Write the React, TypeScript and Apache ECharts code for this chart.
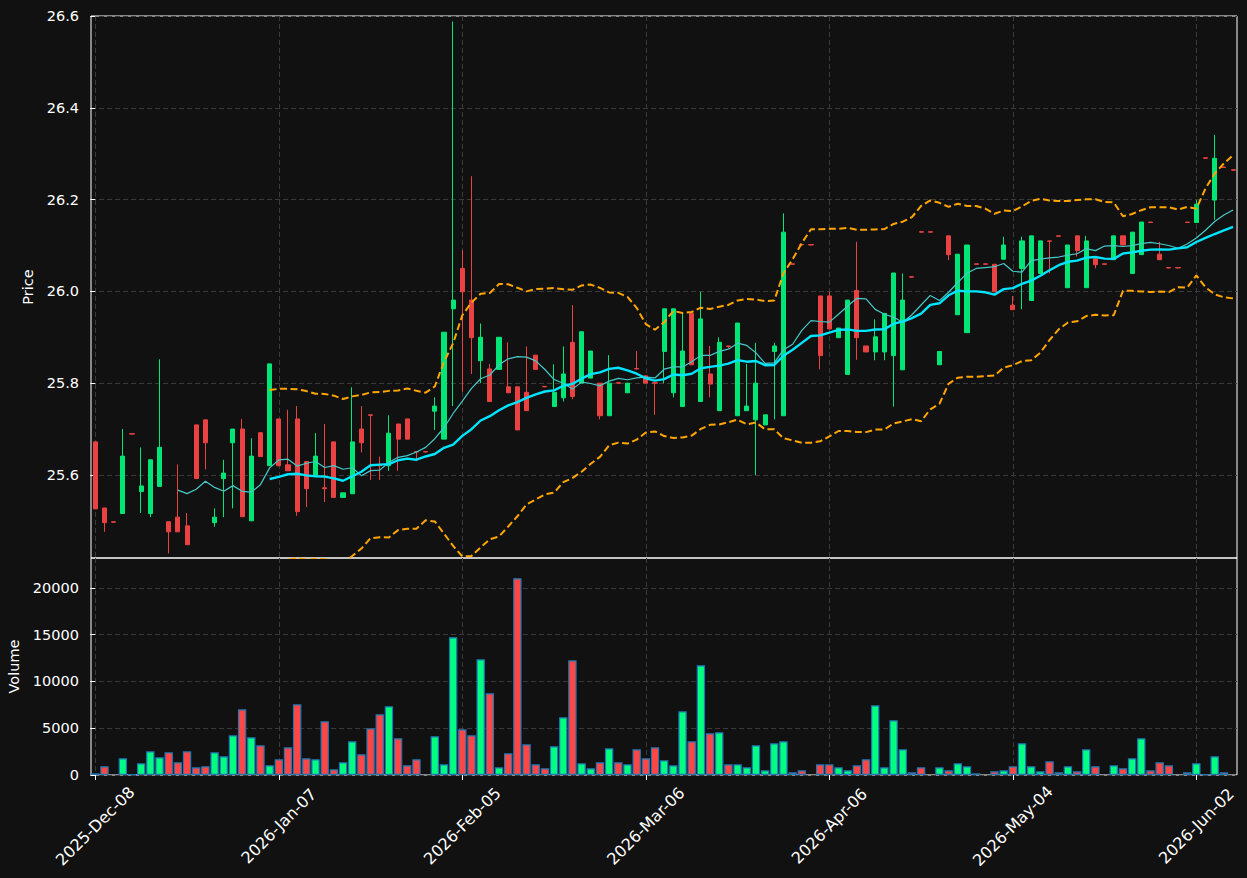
import React, { useEffect, useRef } from "react";
import * as echarts from "echarts";

// Trading days (US calendar) shown on the chart
const monthDays: [string, number[]][] = [
  ["2025-Dec", [8, 9, 10, 11, 12, 15, 16, 17, 18, 19, 22, 23, 24, 26, 29, 30, 31]],
  ["2026-Jan", [2, 5, 6, 7, 8, 9, 12, 13, 14, 15, 16, 20, 21, 22, 23, 26, 27, 28, 29, 30]],
  ["2026-Feb", [2, 3, 4, 5, 6, 9, 10, 11, 12, 13, 17, 18, 19, 20, 23, 24, 25, 26, 27]],
  ["2026-Mar", [2, 3, 4, 5, 6, 9, 10, 11, 12, 13, 16, 17, 18, 19, 20, 23, 24, 25, 26, 27, 30, 31]],
  ["2026-Apr", [1, 2, 6, 7, 8, 9, 10, 13, 14, 15, 16, 17, 20, 21, 22, 23, 24, 27, 28, 29, 30]],
  ["2026-May", [1, 4, 5, 6, 7, 8, 11, 12, 13, 14, 15, 18, 19, 20, 21, 22, 26, 27, 28, 29]],
  ["2026-Jun", [1, 2, 3, 4, 5, 8]],
];
const dates: string[] = monthDays.flatMap(([m, ds]) => ds.map((d) => `${m}-${String(d).padStart(2, "0")}`));

const open = [
  25.672, 25.528, 25.498, 25.516, 25.690, 25.564, 25.516, 25.575, 25.498, 25.508,
  25.489, 25.709, 25.720, 25.496, 25.592, 25.670, 25.700, 25.500, 25.692, 25.620,
  25.722, 25.622, 25.722, 25.629, 25.598, 25.572, 25.672, 25.551, 25.559, 25.700,
  25.731, 25.621, 25.620, 25.711, 25.722, 25.651, 25.651, 25.739, 25.678, 25.962,
  26.050, 25.981, 25.849, 25.831, 25.830, 25.792, 25.792, 25.780, 25.861, 25.793,
  25.749, 25.768, 25.889, 25.800, 25.811, 25.800, 25.729, 25.801, 25.779, 25.832,
  25.816, 25.801, 25.869, 25.779, 25.749, 25.952, 25.760, 25.820, 25.740, 25.881,
  25.729, 25.740, 25.720, 25.709, 25.869, 25.729, 26.060, 26.102, 26.102, 25.990,
  25.990, 25.899, 25.819, 26.002, 25.881, 25.868, 25.868, 25.860, 25.829, 26.032,
  26.130, 26.130, 25.840, 26.121, 25.949, 25.910, 26.060, 26.060, 26.059, 26.070,
  25.970, 26.050, 25.980, 26.039, 26.110, 26.121, 26.008, 26.121, 26.008, 26.071,
  26.060, 26.069, 26.121, 26.039, 26.080, 26.151, 26.081, 26.052, 26.052, 26.151,
  26.150, 26.291, 26.199, 26.271, 26.265,
];
const high = [
  25.672, 25.528, 25.498, 25.700, 25.690, 25.660, 25.633, 25.852, 25.498, 25.623,
  25.517, 25.709, 25.720, 25.527, 25.633, 25.700, 25.722, 25.680, 25.692, 25.842,
  25.722, 25.742, 25.750, 25.629, 25.691, 25.711, 25.672, 25.561, 25.791, 25.750,
  25.731, 25.640, 25.730, 25.711, 25.722, 25.651, 25.651, 25.769, 25.911, 26.588,
  26.090, 26.251, 25.930, 25.842, 25.900, 25.889, 25.792, 25.880, 25.861, 25.793,
  25.841, 25.880, 25.970, 25.912, 25.870, 25.800, 25.861, 25.801, 25.800, 25.870,
  25.816, 25.801, 25.962, 25.962, 25.952, 25.952, 25.999, 25.881, 25.900, 25.881,
  25.931, 25.842, 25.888, 25.731, 25.888, 26.170, 26.060, 26.102, 26.102, 25.990,
  25.999, 25.920, 25.981, 26.108, 25.881, 25.939, 25.952, 26.040, 26.039, 26.032,
  26.130, 26.130, 25.869, 26.121, 26.081, 26.101, 26.060, 26.060, 26.059, 26.119,
  25.990, 26.119, 26.121, 26.110, 26.110, 26.121, 26.101, 26.121, 26.121, 26.071,
  26.060, 26.121, 26.121, 26.129, 26.151, 26.151, 26.108, 26.052, 26.052, 26.151,
  26.199, 26.291, 26.341, 26.271, 26.265,
];
const low = [
  25.526, 25.476, 25.496, 25.516, 25.688, 25.517, 25.508, 25.575, 25.429, 25.476,
  25.448, 25.592, 25.612, 25.487, 25.508, 25.527, 25.509, 25.500, 25.640, 25.620,
  25.620, 25.609, 25.511, 25.530, 25.598, 25.541, 25.551, 25.551, 25.559, 25.649,
  25.589, 25.589, 25.609, 25.609, 25.678, 25.630, 25.649, 25.698, 25.678, 25.750,
  25.781, 25.820, 25.800, 25.760, 25.830, 25.779, 25.698, 25.740, 25.830, 25.791,
  25.749, 25.760, 25.765, 25.800, 25.811, 25.721, 25.729, 25.799, 25.779, 25.830,
  25.800, 25.731, 25.800, 25.769, 25.749, 25.840, 25.760, 25.769, 25.740, 25.876,
  25.729, 25.740, 25.600, 25.709, 25.721, 25.729, 26.058, 26.100, 26.100, 25.830,
  25.918, 25.899, 25.819, 25.851, 25.868, 25.850, 25.850, 25.749, 25.829, 26.030,
  26.128, 26.128, 25.840, 26.068, 25.949, 25.910, 26.058, 26.058, 25.999, 26.070,
  25.960, 25.961, 25.980, 26.039, 26.039, 26.119, 26.008, 26.076, 26.008, 26.050,
  26.058, 26.069, 26.101, 26.039, 26.080, 26.149, 26.069, 26.050, 26.050, 26.149,
  26.150, 26.289, 26.156, 26.269, 26.263,
];
const close = [
  25.526, 25.496, 25.497, 25.641, 25.689, 25.576, 25.633, 25.660, 25.476, 25.476,
  25.448, 25.592, 25.670, 25.508, 25.604, 25.700, 25.509, 25.641, 25.640, 25.842,
  25.620, 25.609, 25.520, 25.570, 25.641, 25.570, 25.551, 25.561, 25.672, 25.670,
  25.730, 25.620, 25.691, 25.678, 25.678, 25.650, 25.650, 25.750, 25.911, 25.981,
  25.999, 25.899, 25.900, 25.760, 25.900, 25.779, 25.698, 25.740, 25.830, 25.792,
  25.780, 25.820, 25.771, 25.912, 25.870, 25.729, 25.800, 25.800, 25.800, 25.831,
  25.800, 25.800, 25.962, 25.962, 25.870, 25.840, 25.940, 25.798, 25.889, 25.880,
  25.931, 25.750, 25.800, 25.731, 25.881, 26.129, 26.059, 26.101, 26.101, 25.860,
  25.918, 25.920, 25.981, 25.899, 25.868, 25.901, 25.952, 26.040, 25.981, 26.031,
  26.129, 26.129, 25.869, 26.080, 26.081, 26.101, 26.059, 26.059, 25.999, 26.101,
  25.960, 26.110, 26.121, 26.110, 26.109, 26.120, 26.101, 26.089, 26.110, 26.058,
  26.059, 26.121, 26.101, 26.129, 26.151, 26.150, 26.069, 26.051, 26.051, 26.150,
  26.190, 26.290, 26.290, 26.270, 26.264,
];
const volume = [
  180, 930, 0, 1790, 60, 1250, 2530, 1890, 2425, 1355,
  2530, 820, 930, 2425, 2000, 4245, 7025, 4030, 3175, 1035,
  1680, 2960, 7560, 1785, 1680, 5740, 610, 1355, 3600, 2210,
  4990, 6490, 7350, 3925, 1035, 1680, 0, 4140, 1140, 14725,
  4885, 4245, 12375, 8735, 820, 2320, 21035, 3280, 1140, 715,
  3070, 6170, 12265, 1250, 715, 1355, 2850, 1355, 1140, 2750,
  1785, 2960, 1570, 1035, 6810, 3600, 11730, 4455, 4565, 1140,
  1140, 820, 3175, 500, 3390, 3600, 285, 500, 0, 1140,
  1140, 820, 500, 1035, 1680, 7450, 820, 5850, 2750, 285,
  820, 0, 820, 500, 1250, 930, 180, 0, 390, 500,
  930, 3390, 930, 390, 1460, 285, 930, 390, 2750, 930,
  0, 1035, 715, 1785, 3925, 500, 1355, 1035, 0, 285,
  1250, 100, 2000, 285, 0,
];

const priceTicks = [25.6, 25.8, 26.0, 26.2, 26.4, 26.6];
const volumeTicks = [0, 5000, 10000, 15000, 20000];
const dateTickIdx = [0, 20, 40, 60, 80, 100, 120];

const UP = "#00e676";
const DOWN = "#ea4242";
const VOL_UP = "#00ff80";
const VOL_DOWN = "#ff4646";
const FONT = "DejaVu Sans";

function sma(vals: number[], n: number): number[][] {
  const out: number[][] = [];
  for (let i = n - 1; i < vals.length; i++) {
    let s = 0;
    for (let j = i - n + 1; j <= i; j++) s += vals[j];
    out.push([i, s / n]);
  }
  return out;
}
function bands(vals: number[], n: number, k: number) {
  const up: number[][] = [];
  const lo: number[][] = [];
  for (let i = n - 1; i < vals.length; i++) {
    let s = 0;
    for (let j = i - n + 1; j <= i; j++) s += vals[j];
    const m = s / n;
    let v = 0;
    for (let j = i - n + 1; j <= i; j++) v += (vals[j] - m) ** 2;
    const sd = Math.sqrt(v / n);
    up.push([i, m + k * sd]);
    lo.push([i, m - k * sd]);
  }
  return { up, lo };
}

export default function App() {
  const ref = useRef<HTMLDivElement>(null);
  useEffect(() => {
    if (!ref.current) return;
    const chart = echarts.init(ref.current, null, { renderer: "svg" });
    const candleData = dates.map((_, i) => [i, open[i], close[i], low[i], high[i]]);
    const volData = volume.map((v, i) => ({
      value: [i, v === 0 ? "-" : v],
      itemStyle: { color: close[i] >= open[i] ? VOL_UP : VOL_DOWN },
    }));
    const ma10 = sma(close, 10);
    const ma20 = sma(close, 20);
    const bb = bands(close, 20, 2);
    const gridLine = { show: true, lineStyle: { color: "#3a3a3a", type: [5, 3] as any, width: 1 } };
    const lbl = { color: "#ffffff", fontSize: 14.5, fontFamily: FONT };
    const xMin = -0.47;
    const xMax = 124.43;

    const option: any = {
      animation: false,
      backgroundColor: "#111111",
      grid: [
        { left: 91, top: 16, width: 1146, height: 542, show: true, borderColor: "#ffffff", borderWidth: 1, backgroundColor: "transparent", containLabel: false, outerBoundsMode: "none" },
        { left: 91, top: 558, width: 1146, height: 217, show: true, borderColor: "#ffffff", borderWidth: 1, backgroundColor: "transparent", containLabel: false, outerBoundsMode: "none" },
      ],
      xAxis: [
        {
          type: "value", gridIndex: 0, min: xMin, max: xMax,
          axisLine: { show: false },
          axisTick: { show: false, customValues: dateTickIdx },
          axisLabel: { show: false, customValues: dateTickIdx },
          splitLine: gridLine,
        },
        {
          type: "value", gridIndex: 1, min: xMin, max: xMax,
          axisLine: { show: false },
          axisTick: { show: true, customValues: dateTickIdx, length: 5, lineStyle: { color: "#ffffff", width: 1 } },
          axisLabel: {
            ...lbl, fontSize: 16, customValues: dateTickIdx, rotate: 45, align: "center", verticalAlign: "middle", margin: 51,
            formatter: (v: number) => dates[Math.round(v)] ?? "",
          },
          splitLine: gridLine,
        },
      ],
      yAxis: [
        {
          type: "value", gridIndex: 0, min: 25.419, max: 26.6,
          name: "Price", nameLocation: "middle", nameGap: 47, nameRotate: 90,
          nameTextStyle: { color: "#ffffff", fontSize: 14.5, fontFamily: FONT },
          axisLine: { show: false },
          axisTick: { show: true, customValues: priceTicks, length: 5, lineStyle: { color: "#ffffff", width: 1 } },
          axisLabel: { ...lbl, customValues: priceTicks, margin: 12, formatter: (v: number) => v.toFixed(1) },
          splitLine: gridLine,
        },
        {
          type: "value", gridIndex: 1, min: 0, max: 23200, interval: 5000,
          name: "Volume", nameLocation: "middle", nameGap: 67, nameRotate: 90,
          nameTextStyle: { color: "#ffffff", fontSize: 14.5, fontFamily: FONT },
          axisLine: { show: false },
          axisTick: { show: true, customValues: volumeTicks, length: 5, lineStyle: { color: "#ffffff", width: 1 } },
          axisLabel: { ...lbl, customValues: volumeTicks, margin: 12, formatter: (v: number) => String(v) },
          splitLine: gridLine,
        },
      ],
      series: [
        {
          type: "candlestick", name: "OHLC", xAxisIndex: 0, yAxisIndex: 0,
          data: candleData, barWidth: 4.6, z: 3,
          itemStyle: { color: UP, color0: DOWN, borderColor: UP, borderColor0: DOWN, borderColorDoji: DOWN, borderWidth: 1 },
        },
        {
          type: "line", name: "MA10", xAxisIndex: 0, yAxisIndex: 0, data: ma10, showSymbol: false, symbol: "none", z: 4,
          lineStyle: { color: "#48c9c9", width: 1.2 },
        },
        {
          type: "line", name: "MA20", xAxisIndex: 0, yAxisIndex: 0, data: ma20, showSymbol: false, symbol: "none", z: 5,
          lineStyle: { color: "#00e5ff", width: 2.4 },
        },
        {
          type: "line", name: "BB Upper", xAxisIndex: 0, yAxisIndex: 0, data: bb.up, showSymbol: false, symbol: "none", z: 5,
          lineStyle: { color: "#ffa500", width: 2, type: [7, 3.5] },
        },
        {
          type: "line", name: "BB Lower", xAxisIndex: 0, yAxisIndex: 0, data: bb.lo, showSymbol: false, symbol: "none", z: 5,
          lineStyle: { color: "#ffa500", width: 2, type: [7, 3.5] },
        },
        {
          type: "bar", name: "Volume", xAxisIndex: 1, yAxisIndex: 1, data: volData, barWidth: 8.4,
          itemStyle: { borderColor: "#1f77b4", borderWidth: 1.2 },
        },
      ],
    };
    chart.setOption(option);
    return () => chart.dispose();
  }, []);
  return <div ref={ref} style={{ position: "fixed", left: 0, top: 0, width: 1247, height: 878 }} />;
}
